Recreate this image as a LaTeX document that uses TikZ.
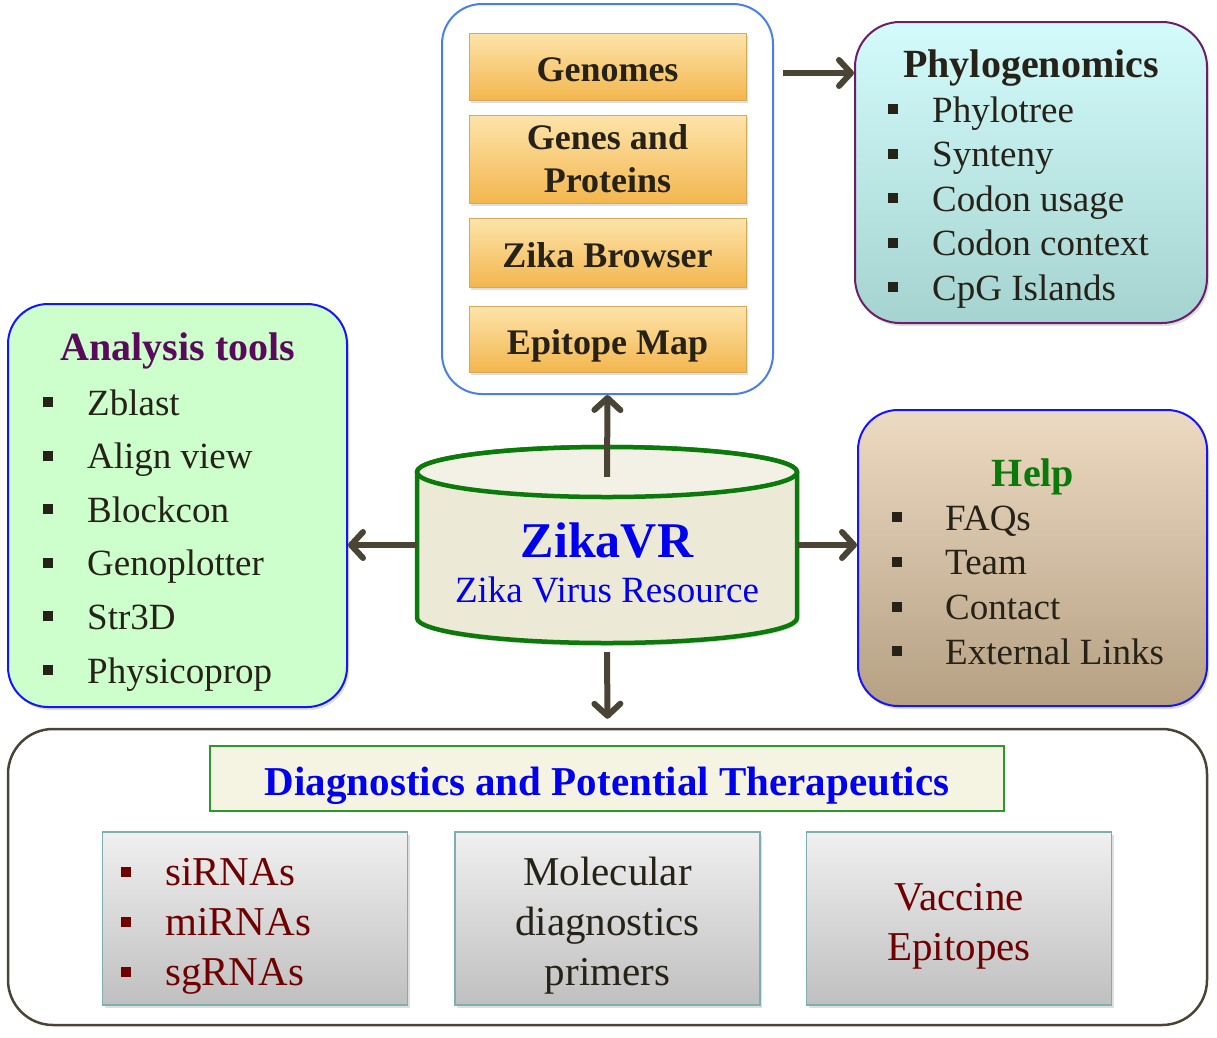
\documentclass[tikz,border=0pt]{standalone}
\usepackage{fontspec}
\setmainfont{Liberation Serif}
\usetikzlibrary{arrows.meta,shadows}
\tikzset{>={Straight Barb[length=12pt,width=26pt,round]}}
\definecolor{inkbrown}{HTML}{4A4434}
\definecolor{textdark}{HTML}{262218}
\definecolor{storeblue}{HTML}{4A7EF0}
\definecolor{edgeblue}{HTML}{1414FF}
\definecolor{plum}{HTML}{5A0A5A}
\definecolor{phyloedge}{HTML}{6B1F6B}
\definecolor{leafgreen}{HTML}{0B7A0B}
\definecolor{darkred}{HTML}{700000}
\definecolor{titleblue}{HTML}{0000EE}
\definecolor{phylotop}{HTML}{D3FBFB}
\definecolor{phylobot}{HTML}{A5D3D0}
\definecolor{helptop}{HTML}{EDDAC2}
\definecolor{helpbot}{HTML}{B5A083}
\definecolor{tooltint}{HTML}{CCFFCC}
\definecolor{tiletop}{HTML}{FDE4AA}
\definecolor{tilebot}{HTML}{F3B64E}
\definecolor{tileedge}{HTML}{D8A85A}
\definecolor{gridteal}{HTML}{7DAFAF}
\definecolor{dbbody}{HTML}{ECE9D6}
\definecolor{dbtop}{HTML}{F3F1E5}
\definecolor{titlefill}{HTML}{F5F3E1}
\definecolor{titleedge}{HTML}{2A9A2A}
\newcommand{\fsize}[1]{\fontsize{#1}{#1}\selectfont}
\newcommand{\bulletitem}[3]{\makebox[#1][l]{\textcolor{#2}{\rule[8pt]{10pt}{10pt}}}#3}
\tikzset{
  softshadow/.style={drop shadow={opacity=0.25,shadow xshift=2pt,shadow yshift=-3pt}},
  panel/.style={rounded corners=40pt,line width=2pt},
  tile/.style={draw=tileedge,line width=0.8pt,top color=tiletop,bottom color=tilebot,
    minimum width=277pt,inner sep=0pt,text=textdark,align=center,
    font=\fontsize{36}{43}\selectfont\bfseries,softshadow},
  oneline/.style={text height=30pt,text depth=0pt},
  entry/.style={anchor=base west,inner sep=0pt,text=textdark,font=\fsize{37}},
  head/.style={anchor=base,inner sep=0pt,font=\fsize{40}\bfseries},
  greybox/.style={draw=gridteal,line width=1.5pt,top color=gray!12,bottom color=gray!50,
    minimum width=305pt,minimum height=173pt,softshadow},
  plain/.style={anchor=base,inner sep=0pt,font=\fsize{41}},
  arr/.style={->,inkbrown,line width=6pt},
}
\begin{document}
\begin{tikzpicture}[x=1pt,y=-1pt]
  \useasboundingbox (0,0) rectangle (1217,1037);
  % data panel
  \node[panel,draw=storeblue,fill=white,minimum width=331pt,minimum height=390pt] (store) at (607.5,199) {};
  \node[tile,oneline,minimum height=67pt] (genomes) at (607.5,66.5) {Genomes};
  \node[tile,minimum height=88pt] (genes) at (607.5,159) {Genes and\\Proteins};
  \node[tile,oneline,minimum height=69pt] (browser) at (607.5,252.5) {Zika Browser};
  \node[tile,oneline,minimum height=66pt] (epimap) at (607.5,339) {Epitope Map};

  % phylogenomics
  \node[panel,rounded corners=45pt,draw=phyloedge,top color=phylotop,bottom color=phylobot,
        minimum width=352pt,minimum height=301pt,softshadow] (phylo) at (1031,172.5) {};
  \node[head,text=textdark] (phylohead) at (1031,77) {Phylogenomics};
  \foreach \t [count=\i] in {Phylotree,Synteny,Codon usage,Codon context,CpG Islands}
    \node[entry] (phylo\i) at (888,{122+44.5*(\i-1)}) {\bulletitem{44pt}{textdark}{\t}};

  % analysis tools
  \node[panel,draw=edgeblue,fill=tooltint,minimum width=339pt,minimum height=403pt,softshadow] (tools) at (177.5,505.5) {};
  \node[head,text=plum] (toolshead) at (178,360) {Analysis tools};
  \foreach \t [count=\i] in {Zblast,Align view,Blockcon,Genoplotter,Str3D,Physicoprop}
    \node[entry] (tool\i) at (43,{415+53.6*(\i-1)}) {\bulletitem{44pt}{textdark}{\t}};

  % help
  \node[panel,draw=edgeblue,top color=helptop,bottom color=helpbot,minimum width=349pt,minimum height=296pt,softshadow] (help) at (1032.5,558) {};
  \node[head,text=leafgreen] (helphead) at (1033,486) {Help};
  \foreach \t [count=\i] in {FAQs,Team,Contact,External Links}
    \node[entry] (help\i) at (892,{530+44.8*(\i-1)}) {\bulletitem{53pt}{textdark}{\t}};

  % database cylinder
  \node[minimum width=380pt,minimum height=196pt,inner sep=0pt] (core) at (607,545) {};
  \path[fill=dbbody,draw=leafgreen,line width=4.5pt,softshadow] (417,472) -- (417,618)
    arc[start angle=180,end angle=360,x radius=190pt,y radius=25pt] -- (797,472)
    arc[start angle=0,end angle=180,x radius=190pt,y radius=25pt] -- cycle;
  \draw[fill=dbtop,draw=leafgreen,line width=4.5pt] (607,472) ellipse [x radius=190pt,y radius=25pt];
  \node[anchor=base,inner sep=0pt,font=\fsize{50}\bfseries,text=titleblue] (zname) at (607,557) {ZikaVR};
  \node[anchor=base,inner sep=0pt,font=\fsize{37},text=titleblue] (zsub) at (607,602) {Zika Virus Resource};

  % diagnostics
  \node[draw=inkbrown,line width=2.5pt,rounded corners=45pt,fill=white,minimum width=1199pt,minimum height=296pt] (diag) at (607.5,877) {};
  \node[draw=titleedge,line width=2pt,fill=titlefill,minimum width=794pt,minimum height=65pt,inner sep=0pt,
        text=titleblue,font=\fsize{41}\bfseries,text height=33pt,text depth=0pt] (diaghead) at (607,778.5)
        {Diagnostics and Potential Therapeutics};
  \node[greybox] (rnabox) at (255,918.5) {};
  \node[greybox] (primerbox) at (607.5,918.5) {};
  \node[greybox] (vaccbox) at (959,918.5) {};
  \foreach \t [count=\i] in {siRNAs,miRNAs,sgRNAs}
    \node[entry,text=darkred,font=\fsize{41}] (rna\i) at (121,{885+50*(\i-1)}) {\bulletitem{44pt}{darkred}{\t}};
  \foreach \t [count=\i] in {Molecular,diagnostics,primers}
    \node[plain,text=textdark] (primer\i) at (607.5,{885+50*(\i-1)}) {\t};
  \foreach \t [count=\i] in {Vaccine,Epitopes}
    \node[plain,text=darkred] (vacc\i) at (959,{910+50*(\i-1)}) {\t};

  % links
  \coordinate (toright) at (783,73);
  \draw[arr] (toright) -- (toright -| phylo.west);
  \draw[arr] ([yshift=-30pt]core.north) -- (store.south);
  \draw[arr] (core.west) -- (core.west -| tools.east);
  \draw[arr] (core.east) -- (core.east -| help.west);
  \draw[arr] ([yshift=-9pt]core.south) -- ([yshift=9pt]diag.north);
\end{tikzpicture}
\end{document}
